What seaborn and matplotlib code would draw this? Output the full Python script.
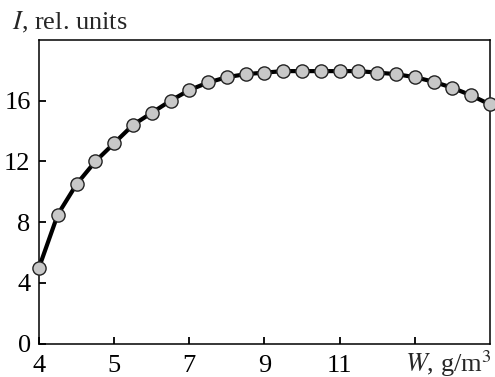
import numpy as np
import pandas as pd
import matplotlib
matplotlib.use("Agg")
import matplotlib.pyplot as plt
import seaborn as sns

# Data (x expressed in axis units: ticks evenly spaced, 4 points per tick interval)
x_pos = [4.0, 4.5, 5.0, 5.5, 6.0, 6.5, 7.0, 7.5, 8.0, 8.5, 9.0, 9.5, 10.0,
         10.5, 11.0, 11.5, 12.0, 12.5, 13.0, 13.5, 14.0, 14.5, 15.0, 15.5, 16.0]
intensity = [5.0, 8.5, 10.5, 12.0, 13.2, 14.4, 15.2, 16.0, 16.7, 17.2, 17.55, 17.75, 17.85,
             17.95, 17.95, 17.95, 17.95, 17.95, 17.85, 17.75, 17.55, 17.25, 16.85, 16.35, 15.75]
xtick_pos = [4, 6, 8, 10, 12, 14]
xtick_labels = ["4", "5", "7", "9", "11", ""]
ytick_vals = [0, 4, 8, 12, 16]

sns.set_theme(style="ticks")
plt.rcParams["font.family"] = ["Liberation Serif", "DejaVu Serif"]
plt.rcParams["mathtext.fontset"] = "stix"

df = pd.DataFrame({"W": x_pos, "I": intensity})

fig = plt.figure(figsize=(4.95, 3.77), dpi=100)
ax = fig.add_axes([39 / 495, 1 - 343.5 / 377, (490 - 39) / 495, (343.5 - 40) / 377])

sns.lineplot(data=df, x="W", y="I", ax=ax, color="black", linewidth=3.0,
             marker="o", markersize=9.5, markerfacecolor="#c8c8c8",
             markeredgecolor="#222222", markeredgewidth=1.0, clip_on=False, zorder=3)

ax.set_xlim(4, 16)
ax.set_ylim(0, 20)
ax.set_xticks(xtick_pos)
ax.set_xticklabels(xtick_labels)
ax.set_yticks(ytick_vals)
ax.set_yticklabels([str(v) for v in ytick_vals])
ax.set_xlabel("")
ax.set_ylabel("")

for side in ["left", "right", "top", "bottom"]:
    ax.spines[side].set_visible(True)
    ax.spines[side].set_linewidth(1.1)
    ax.spines[side].set_color("black")

ax.tick_params(axis="both", direction="in", length=5, width=1.3, colors="black",
               labelsize=19, top=False, right=False)
ax.tick_params(axis="x", pad=8.5)
ax.tick_params(axis="y", pad=6)

fig.text(12 / 495, 1 - 29.5 / 377, "$I$, rel. units", fontsize=19, ha="left", va="baseline")
ax.text(0.812, -0.092, "$W$, g/m$^3$", transform=ax.transAxes,
        fontsize=19, ha="left", va="baseline")

fig.savefig("out.png", dpi=100)
